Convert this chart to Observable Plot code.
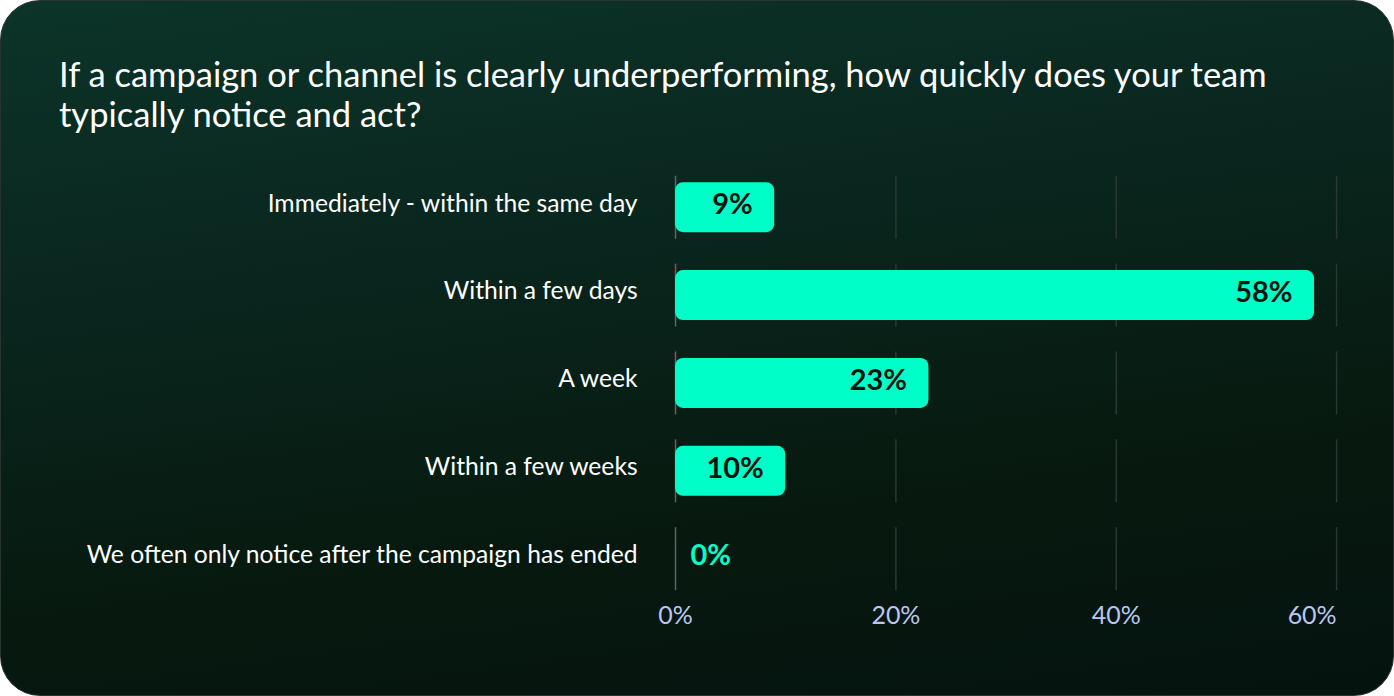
<!DOCTYPE html>
<html>
<head>
<meta charset="utf-8">
<script src="https://cdn.jsdelivr.net/npm/d3@7"></script>
<script src="https://cdn.jsdelivr.net/npm/@observablehq/plot@0.6"></script>
<style>
  html, body { margin: 0; padding: 0; background: #ffffff; width: 1394px; height: 696px; overflow: hidden; }
  #card {
    position: absolute; left: 0; top: 0; width: 1392px; height: 694px;
    border-radius: 40px;
    border: 1px solid #27342f;
    background: linear-gradient(172deg, #0c3428 0%, #0a2820 30%, #07190f 70%, #05130f 100%);
    overflow: hidden;
    font-family: Lato, "Open Sans", sans-serif;
  }
  #title {
    position: absolute; left: 58px; top: 53px; width: 1320px;
    color: #ffffff; font-size: 34.5px; line-height: 40px; font-weight: 400;
    white-space: nowrap;
  }
  #chart { position: absolute; left: 0; top: 0; }
</style>
</head>
<body>
<div id="card">
  <div id="title">If a campaign or channel is clearly underperforming, how quickly does your team<br>typically notice and act?</div>
  <div id="chart"></div>
</div>
<script>
const categories = [
  "Immediately - within the same day",
  "Within a few days",
  "A week",
  "Within a few weeks",
  "We often only notice after the campaign has ended"
];
const values = [9, 58, 23, 10, 0];
const xTicks = [0, 20, 40, 60];

const data = categories.map((c, i) => ({label: c, value: values[i]}));
const grid = categories.flatMap(c => xTicks.map(t => ({label: c, t})));

const chart = Plot.plot({
  width: 1394,
  height: 696,
  marginLeft: 675,
  marginRight: 57,
  marginTop: 175,
  marginBottom: 105.6,
  style: {background: "transparent", fontFamily: "Lato, 'Open Sans', sans-serif", color: "#ffffff"},
  x: {domain: [0, 60], axis: null},
  y: {domain: categories, paddingInner: 0.28, paddingOuter: 0, axis: null},
  marks: [
    Plot.tickX(grid, {x: "t", y: "label", stroke: d => d.t === 0 ? "#5d6864" : "#2a3833", strokeWidth: 1.5}),
    Plot.barX(data, {x: "value", y: "label", fill: "#00FFC8", rx: 8, insetTop: 6.5, insetBottom: 6.5}),
    Plot.text(data.filter(d => d.value > 0), {x: "value", y: "label", text: d => d.value + "%", textAnchor: "end", dx: -22, dy: -3, fill: "#07140f", fontSize: 29, fontWeight: 700}),
    Plot.text(data.filter(d => d.value === 0), {x: "value", y: "label", text: d => d.value + "%", textAnchor: "start", dx: 15, dy: -3, fill: "#00FFC8", fontSize: 29, fontWeight: 700}),
    Plot.axisY({tickSize: 0, tickPadding: 38, fontSize: 24.7, fill: "#ffffff", dy: -4, label: null}),
    Plot.axisX({ticks: [0, 20, 40], tickFormat: d => d + "%", tickSize: 0, tickPadding: 15, fontSize: 25, fill: "#bcc5f2", label: null}),
    Plot.axisX({ticks: [60], tickFormat: d => d + "%", tickSize: 0, tickPadding: 15, fontSize: 25, fill: "#bcc5f2", textAnchor: "end", label: null})
  ]
});
document.getElementById("chart").appendChild(chart);
</script>
</body>
</html>
